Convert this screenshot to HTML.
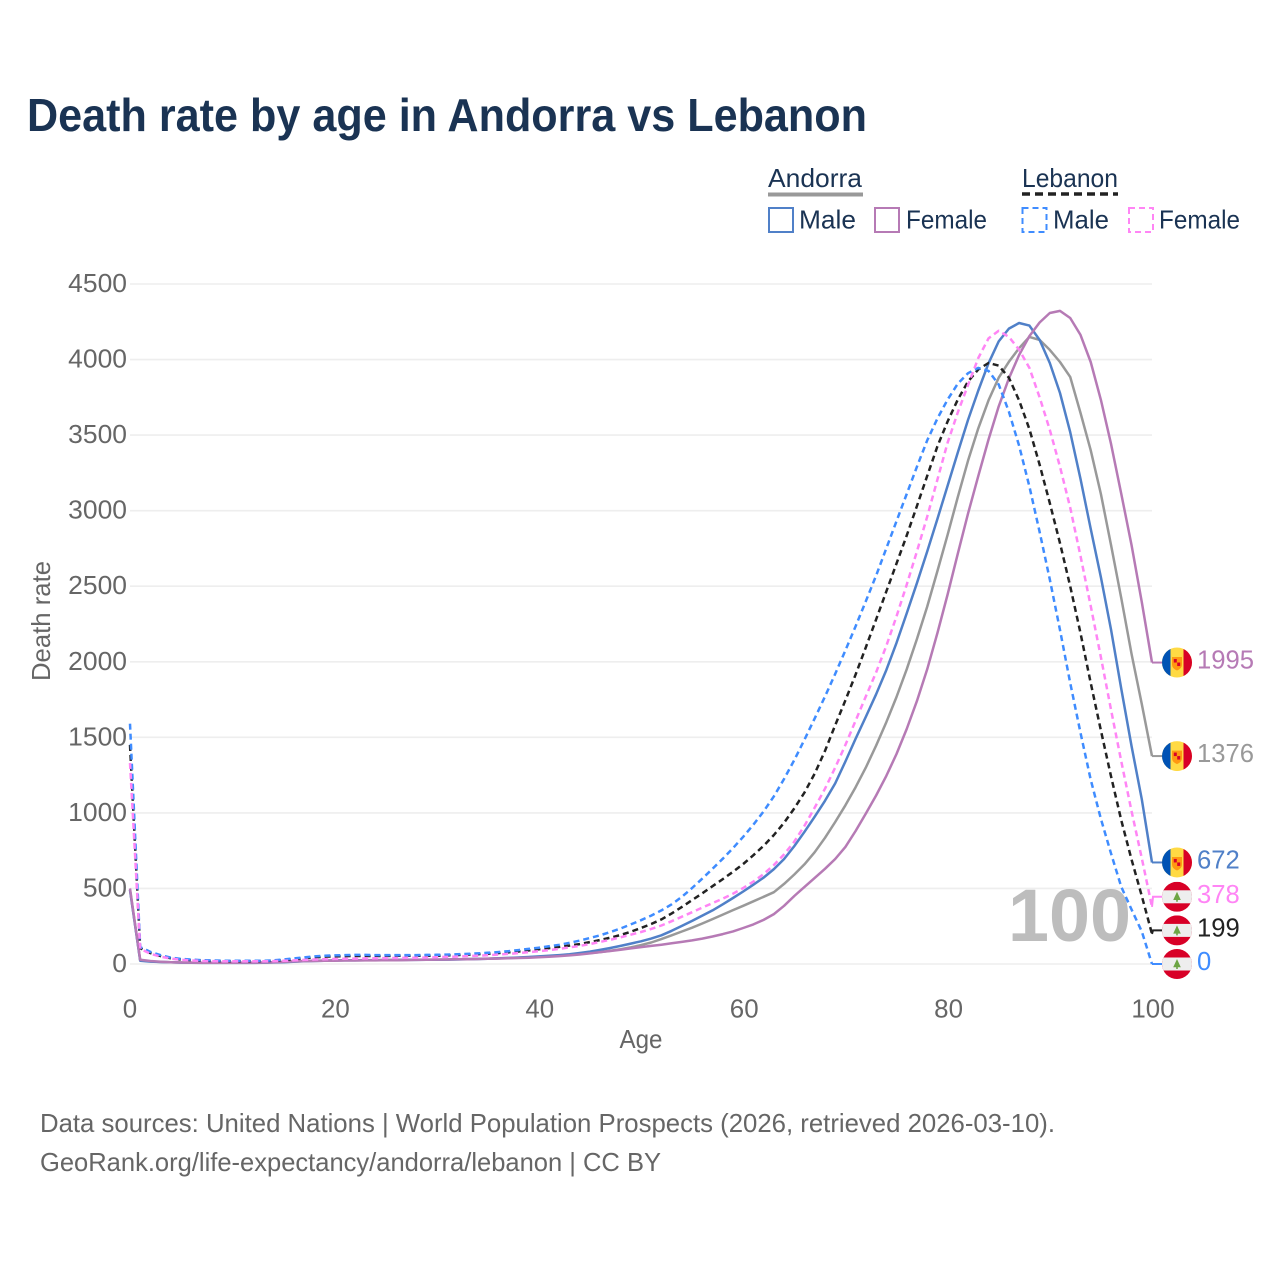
<!DOCTYPE html>
<html lang="en">
<head>
<meta charset="utf-8">
<title>Death rate by age in Andorra vs Lebanon</title>
<style>
html,body{margin:0;padding:0;background:#fff;}
body{width:1280px;height:1280px;overflow:hidden;}
svg{display:block;font-family:"Liberation Sans",Arial,sans-serif;}
</style>
</head>
<body>
<svg id="chart" xmlns="http://www.w3.org/2000/svg" width="1280" height="1280" viewBox="0 0 1280 1280">
  <defs>
    <clipPath id="flag-clip"><circle cx="0" cy="0" r="15"/></clipPath>
  </defs>
  <rect x="0" y="0" width="1280" height="1280" fill="#fff"/>
  <text x="27" y="131" font-size="46" font-weight="700" fill="#1a3353" textLength="840" lengthAdjust="spacingAndGlyphs">Death rate by age in Andorra vs Lebanon</text>

  <g>
    <text x="768" y="187" font-size="26" fill="#1a3353" textLength="94" lengthAdjust="spacingAndGlyphs">Andorra</text>
    <line x1="768" y1="194.5" x2="863" y2="194.5" stroke="#999" stroke-width="4"/>
    <text x="1022" y="187" font-size="26" fill="#1a3353" textLength="96" lengthAdjust="spacingAndGlyphs">Lebanon</text>
    <line x1="1022" y1="194" x2="1118" y2="194" stroke="#222" stroke-width="3.5" stroke-dasharray="8 5"/>
    <rect x="769" y="208" width="24" height="24" fill="none" stroke="#5080c8" stroke-width="2"/>
    <text x="799" y="228.5" font-size="26" fill="#1a3353" textLength="57" lengthAdjust="spacingAndGlyphs">Male</text>
    <rect x="875" y="208" width="24" height="24" fill="none" stroke="#b67ab5" stroke-width="2"/>
    <text x="906" y="228.5" font-size="26" fill="#1a3353" textLength="81" lengthAdjust="spacingAndGlyphs">Female</text>
    <rect x="1022.5" y="208" width="24" height="24" fill="none" stroke="#3f8cff" stroke-width="2" stroke-dasharray="6 4"/>
    <text x="1053" y="228.5" font-size="26" fill="#1a3353" textLength="56" lengthAdjust="spacingAndGlyphs">Male</text>
    <rect x="1129" y="208" width="24" height="24" fill="none" stroke="#ff85f5" stroke-width="2" stroke-dasharray="6 4"/>
    <text x="1159" y="228.5" font-size="26" fill="#1a3353" textLength="81" lengthAdjust="spacingAndGlyphs">Female</text>
  </g>

  <g id="grid"></g>
  <g id="y-ticks"></g>
  <g id="x-ticks"></g>
  <text transform="translate(50 621) rotate(-90)" text-anchor="middle" font-size="26" fill="#666" textLength="120" lengthAdjust="spacingAndGlyphs">Death rate</text>
  <text x="641" y="1048" text-anchor="middle" font-size="26" fill="#666" textLength="43" lengthAdjust="spacingAndGlyphs">Age</text>
  <text x="1131" y="941" text-anchor="end" font-size="74" font-weight="700" fill="#bdbdbd" textLength="123" lengthAdjust="spacingAndGlyphs">100</text>

  <g id="series"></g>
  <g id="end-labels"></g>

  <text x="40" y="1132" font-size="26" fill="#666" textLength="1015" lengthAdjust="spacingAndGlyphs">Data sources: United Nations | World Population Prospects (2026, retrieved 2026-03-10).</text>
  <text x="40" y="1171" font-size="26" fill="#666" textLength="621" lengthAdjust="spacingAndGlyphs">GeoRank.org/life-expectancy/andorra/lebanon | CC BY</text>
</svg>

<script>
var yTickLabels = [0, 500, 1000, 1500, 2000, 2500, 3000, 3500, 4000, 4500];
var xTickLabels = [0, 20, 40, 60, 80, 100];

var andorraTotal = [
  490,24,17,13,11,10,9,8,8,8,
  8,8,8,9,11,13,16,19,21,23,
  24,25,25,26,26,27,27,28,28,29,
  29,30,31,33,34,36,38,40,42,45,
  48,52,56,60,66,72,79,88,98,110,
  125,142,165,190,215,240,268,297,327,357,
  385,415,445,475,530,592,660,740,835,940,
  1050,1170,1300,1445,1600,1767,1950,2150,2365,2600,
  2840,3090,3330,3545,3730,3880,3985,4075,4150,4130,
  4064,3984,3885,3647,3400,3110,2770,2420,2050,1720,
  1376
];
var andorraMale = [
  490,22,16,13,11,9,8,7,7,7,
  7,7,7,8,10,12,15,18,20,22,
  23,24,24,25,25,26,26,27,27,28,
  28,29,30,32,33,35,37,40,43,46,
  50,54,59,65,73,82,93,106,120,135,
  150,168,190,220,252,285,320,355,395,437,
  480,525,572,628,695,780,875,975,1080,1195,
  1340,1490,1635,1785,1945,2125,2320,2520,2730,2945,
  3165,3385,3600,3795,3975,4120,4205,4242,4225,4130,
  3977,3779,3520,3210,2880,2560,2210,1820,1440,1090,
  672
];
var andorraFemale = [
  500,28,20,15,12,10,9,8,8,8,
  8,9,9,10,12,14,17,19,20,21,
  22,23,23,24,24,25,25,26,27,28,
  29,30,31,32,33,35,36,38,40,42,
  45,48,52,57,63,70,79,86,94,103,
  112,120,128,137,146,156,168,182,198,216,
  238,262,292,330,385,450,510,570,630,695,
  775,880,995,1115,1245,1390,1555,1740,1950,2190,
  2445,2715,2980,3230,3470,3690,3875,4030,4155,4245,
  4308,4322,4275,4163,3984,3733,3440,3110,2770,2395,
  1995
];
var lebanonTotal = [
  1450,105,72,52,38,30,26,22,20,19,
  18,18,18,19,21,26,32,38,44,48,
  50,52,53,53,53,53,54,54,54,55,
  55,57,59,62,65,68,72,77,83,90,
  97,105,113,122,132,145,159,174,192,214,
  238,265,295,335,378,423,468,515,562,610,
  662,720,782,854,935,1030,1135,1260,1410,1580,
  1745,1915,2095,2280,2465,2650,2835,3030,3230,3425,
  3590,3735,3855,3935,3977,3960,3880,3730,3540,3305,
  3050,2785,2500,2190,1860,1545,1240,950,690,450,
  199
];
var lebanonMale = [
  1590,112,80,58,42,34,30,25,24,22,
  21,21,21,21,24,30,37,44,50,55,
  57,59,60,60,59,59,59,59,59,60,
  61,62,64,67,70,74,79,85,92,100,
  108,117,127,140,155,172,190,212,235,262,
  290,320,355,395,445,503,565,630,697,767,
  842,922,1010,1110,1225,1350,1485,1625,1770,1920,
  2075,2235,2400,2570,2750,2930,3110,3290,3465,3610,
  3735,3840,3910,3945,3925,3835,3655,3430,3160,2860,
  2545,2210,1860,1530,1220,960,730,510,360,215,
  0
];
var lebanonFemale = [
  1330,100,68,48,36,28,24,20,19,18,
  18,18,18,18,19,21,24,27,30,32,
  34,35,36,37,38,39,40,41,42,43,
  45,47,49,52,55,58,62,67,72,78,
  85,92,100,110,120,132,146,160,177,194,
  212,232,255,283,313,343,373,403,432,465,
  503,545,595,655,725,810,915,1035,1160,1300,
  1450,1610,1770,1930,2105,2300,2510,2730,2960,3205,
  3450,3650,3830,4010,4140,4190,4150,4065,3945,3750,
  3535,3290,3020,2700,2370,2030,1680,1340,1010,700,
  378
];

var NS = 'http://www.w3.org/2000/svg';
var plotLeft = 130, plotRight = 1152, plotBottom = 964, plotTop = 284;
var xMax = 100, yMax = 4500;

function xScale(age) { return plotLeft + (age / xMax) * (plotRight - plotLeft); }
function yScale(v) { return plotBottom - (v / yMax) * (plotBottom - plotTop); }

function mk(tag, parent, attrs) {
  var el = document.createElementNS(NS, tag);
  for (var k in attrs) { el.setAttribute(k, attrs[k]); }
  parent.appendChild(el);
  return el;
}

var gridG = document.getElementById('grid');
var yTickG = document.getElementById('y-ticks');
var xTickG = document.getElementById('x-ticks');
var seriesG = document.getElementById('series');
var labelsG = document.getElementById('end-labels');

yTickLabels.forEach(function (t) {
  var line = mk('line', gridG, { x1: plotLeft, x2: plotRight, y1: yScale(t), y2: yScale(t), stroke: '#eeeeee', 'stroke-width': 1.6 });
  
  
  var label = mk('text', yTickG, { x: 127, y: yScale(t) + 8, 'text-anchor': 'end', 'font-size': 25.5, fill: '#666', textLength: String(t).length * 14.7, lengthAdjust: 'spacingAndGlyphs' });
  
  
  label.textContent = t;
});

xTickLabels.forEach(function (t) {
  var label = mk('text', xTickG, { x: xScale(t) + (t === 0 ? 0 : 1), y: 1017.5, 'text-anchor': 'middle', 'font-size': 25.5, fill: '#666', textLength: String(t).length * 14.4, lengthAdjust: 'spacingAndGlyphs' });
  
  
  label.textContent = t;
});

var seriesList = [
  { key: 'andorra-total', values: andorraTotal, color: '#999999', dash: null, flag: 'andorra' },
  { key: 'andorra-male', values: andorraMale, color: '#5080c8', dash: null, flag: 'andorra' },
  { key: 'andorra-female', values: andorraFemale, color: '#b67ab5', dash: null, flag: 'andorra' },
  { key: 'lebanon-total', values: lebanonTotal, color: '#222222', dash: '6 4', flag: 'lebanon' },
  { key: 'lebanon-male', values: lebanonMale, color: '#3f8cff', dash: '6 4', flag: 'lebanon' },
  { key: 'lebanon-female', values: lebanonFemale, color: '#ff85f5', dash: '6 4', flag: 'lebanon' }
];

seriesList.forEach(function (s) {
  var pts = s.values.map(function (v, age) { return xScale(age).toFixed(1) + ',' + yScale(v).toFixed(1); }).join(' ');
  var line = mk('polyline', seriesG, { points: pts, fill: 'none', stroke: s.color, 'stroke-width': 2.5, 'stroke-linejoin': 'round' });
  
  
  if (s.dash) { line.setAttribute('stroke-dasharray', s.dash); }
});

function drawAndorraFlag(g) {
  mk('rect', g, { x: -15, y: -15, width: 30, height: 30, fill: '#ffda44' });
  mk('rect', g, { x: -15, y: -15, width: 8.5, height: 30, fill: '#0052b4' });
  mk('rect', g, { x: 6.5, y: -15, width: 8.5, height: 30, fill: '#d80027' });
  mk('path', g, { d: 'M-5 -5.5 H5 V2 Q5 6 0 8 Q-5 6 -5 2 Z', fill: '#ff9811' });
  mk('rect', g, { x: -3.2, y: -3.5, width: 3, height: 3.5, fill: '#d80027' });
  mk('rect', g, { x: 0.2, y: 0, width: 3, height: 3.5, fill: '#d80027' });
}
function drawLebanonFlag(g) {
  mk('rect', g, { x: -15, y: -15, width: 30, height: 30, fill: '#d80027' });
  mk('rect', g, { x: -15, y: -6.5, width: 30, height: 13, fill: '#eeeeee' });
  mk('path', g, { d: 'M0 -5 L3.8 3.2 H0.8 V5 H-0.8 V3.2 H-3.8 Z', fill: '#6da544' });
}

var ordered = seriesList.slice().sort(function (a, b) {
  return a.values[a.values.length - 1] - b.values[b.values.length - 1];
});
var prevY = Infinity;
ordered.forEach(function (s) {
  var last = s.values[s.values.length - 1];
  var endY = yScale(last);
  var labelY = Math.min(endY, prevY - 33.6);
  prevY = labelY;
  var leader = mk('polyline', labelsG, { points: xScale(xMax) + ',' + endY + ' ' + (xScale(xMax) + 1) + ',' + labelY + ' ' + (xScale(xMax) + 10) + ',' + labelY, fill: 'none', stroke: s.color, 'stroke-width': 2 });
  
  
  var flag = mk('g', labelsG, { transform: 'translate(1177 ' + labelY + ')', 'clip-path': 'url(#flag-clip)' });
  
  
  if (s.flag === 'andorra') { drawAndorraFlag(flag); } else { drawLebanonFlag(flag); }
  var text = mk('text', labelsG, { x: 1197, y: labelY + 6, 'font-size': 25.5, fill: s.color, textLength: String(last).length * 14.25, lengthAdjust: 'spacingAndGlyphs' });
  
  
  text.textContent = last;
});
</script>
</body>
</html>
